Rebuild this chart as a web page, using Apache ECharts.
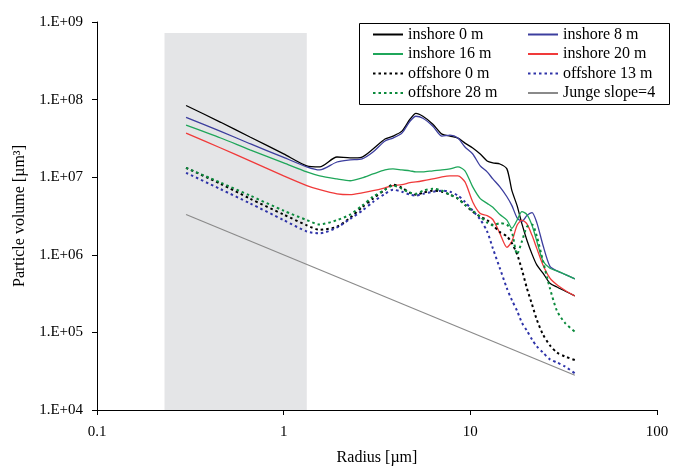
<!DOCTYPE html>
<html>
<head>
<meta charset="utf-8">
<script src="https://cdn.jsdelivr.net/npm/echarts@6/dist/echarts.min.js"></script>
<style>html,body{margin:0;padding:0;background:#fff}#c{width:674px;height:471px}</style>
</head>
<body>
<div id="c"></div>
<script>
// Radius grid (µm) shared by the measured curves
const radius = [0.30, 0.46, 0.66, 1.0, 1.33, 1.56, 1.93, 2.27, 2.63, 3.01, 3.49, 3.85, 4.30, 4.75, 5.11, 5.57, 6.30, 7.05, 7.78, 8.58, 9.36, 10.3, 11.3, 12.3, 13.2, 14.4, 15.7, 16.7, 17.8, 18.9, 20.1, 21.4, 22.7, 24.5, 26.7, 29.1, 32.1, 36.3];

const inshore0 = [8.4e7, 5.1e7, 3.3e7, 2.0e7, 1.4e7, 1.36e7, 1.82e7, 1.77e7, 1.82e7, 2.31e7, 3.1e7, 3.38e7, 3.92e7, 5.58e7, 6.66e7, 6.1e7, 4.82e7, 3.59e7, 3.38e7, 3.19e7, 2.75e7, 2.38e7, 1.99e7, 1.62e7, 1.53e7, 1.48e7, 1.28e7, 6.7e6, 4.3e6, 2.5e6, 1.54e6, 1.02e6, 7.4e5, 5.8e5, 4.3e5, 3.85e5, 3.42e5, 2.95e5];
const inshore8 = [5.9e7, 3.9e7, 2.7e7, 1.8e7, 1.36e7, 1.24e7, 1.57e7, 1.67e7, 1.72e7, 2.11e7, 2.92e7, 3.19e7, 3.7e7, 5.26e7, 6.1e7, 5.75e7, 4.54e7, 3.38e7, 3.48e7, 3.19e7, 2.45e7, 1.99e7, 1.4e7, 1.17e7, 9.5e6, 7.5e6, 5.6e6, 4.3e6, 3.0e6, 2.7e6, 3.2e6, 3.5e6, 2.6e6, 1.33e6, 7.1e5, 6.2e5, 5.6e5, 4.9e5];
const inshore16 = [4.68e7, 3.2e7, 2.25e7, 1.53e7, 1.17e7, 1.04e7, 9.5e6, 9.0e6, 9.8e6, 1.1e7, 1.24e7, 1.28e7, 1.24e7, 1.21e7, 1.17e7, 1.17e7, 1.21e7, 1.24e7, 1.28e7, 1.36e7, 1.21e7, 7.5e6, 5.3e6, 4.6e6, 4.1e6, 3.3e6, 2.8e6, 2.2e6, 2.8e6, 3.6e6, 3.3e6, 2.4e6, 1.5e6, 8.3e5, 6.7e5, 6.2e5, 5.6e5, 4.9e5];
const inshore20 = [3.7e7, 2.38e7, 1.62e7, 1.04e7, 7.8e6, 6.9e6, 6.1e6, 5.95e6, 6.3e6, 6.7e6, 7.3e6, 7.8e6, 8.0e6, 8.5e6, 8.7e6, 9.0e6, 9.5e6, 1.01e7, 1.04e7, 1.04e7, 8.7e6, 4.8e6, 3.4e6, 3.2e6, 2.85e6, 1.89e6, 1.25e6, 1.49e6, 2.4e6, 2.8e6, 2.5e6, 1.78e6, 1.21e6, 7.4e5, 5.0e5, 4.1e5, 3.5e5, 2.95e5];
const offshore0 = [1.32e7, 8.2e6, 5.3e6, 3.3e6, 2.4e6, 2.1e6, 2.3e6, 3.0e6, 4.1e6, 5.3e6, 6.9e6, 8.0e6, 7.3e6, 6.3e6, 5.95e6, 6.3e6, 6.7e6, 6.5e6, 5.95e6, 5.3e6, 4.4e6, 3.6e6, 3.1e6, 2.8e6, 2.4e6, 1.96e6, 1.73e6, 1.41e6, 1.02e6, 6.4e5, 3.7e5, 2.3e5, 1.46e5, 9.4e4, 6.8e4, 5.5e4, 4.9e4, 4.4e4];
const offshore13 = [1.14e7, 7.0e6, 4.6e6, 2.8e6, 2.0e6, 1.89e6, 2.25e6, 2.9e6, 3.7e6, 4.8e6, 6.1e6, 6.9e6, 6.5e6, 5.95e6, 5.8e6, 6.1e6, 6.5e6, 6.7e6, 6.5e6, 5.8e6, 4.8e6, 3.7e6, 2.85e6, 2.0e6, 1.21e6, 6.7e5, 3.7e5, 2.6e5, 1.9e5, 1.33e5, 1.05e5, 8.1e4, 6.6e4, 5.5e4, 4.5e4, 4.1e4, 3.65e4, 2.97e4];
const offshore28 = [1.32e7, 8.5e6, 5.8e6, 3.7e6, 2.8e6, 2.46e6, 2.8e6, 3.3e6, 4.3e6, 5.6e6, 6.9e6, 7.8e6, 7.1e6, 6.3e6, 6.1e6, 6.7e6, 7.1e6, 6.7e6, 5.95e6, 5.3e6, 4.4e6, 3.7e6, 3.1e6, 2.6e6, 2.4e6, 2.55e6, 2.45e6, 1.96e6, 1.02e6, 1.49e6, 2.3e6, 2.46e6, 1.73e6, 8.3e5, 3.7e5, 1.9e5, 1.33e5, 1.02e5];

// Junge slope=4 reference line (end points)
const jungeRadius = [0.30, 36.3];
const jungeVolume = [3.3e6, 2.8e4];

// Shaded radius band and its top
const bandRadius = [0.23, 1.33];
const bandTop = 7.2e8;

const xTicks = [0.1, 1, 10, 100];
const yTicks = ['1.E+04', '1.E+05', '1.E+06', '1.E+07', '1.E+08', '1.E+09'];

const FONT = '"Liberation Serif", "Times New Roman", serif';
const pair = (xs, ys) => xs.map((x, i) => [x, ys[i]]);

const seriesDefs = [
  {name: 'inshore 0 m', data: inshore0, color: '#000000', type: 'solid', width: 1.3},
  {name: 'inshore 8 m', data: inshore8, color: '#3c3e9e', type: 'solid', width: 1.3},
  {name: 'inshore 16 m', data: inshore16, color: '#1fa65a', type: 'solid', width: 1.3},
  {name: 'inshore 20 m', data: inshore20, color: '#f03a3a', type: 'solid', width: 1.3},
  {name: 'offshore 0 m', data: offshore0, color: '#000000', type: [2.5, 3], width: 2},
  {name: 'offshore 13 m', data: offshore13, color: '#2e33a8', type: [2.5, 3], width: 2},
  {name: 'offshore 28 m', data: offshore28, color: '#0b8a3c', type: [2.5, 3], width: 2}
];

const series = [{
  name: 'band', type: 'line', data: [], z: 1, silent: true,
  markArea: {
    silent: true,
    itemStyle: {color: '#e4e5e7'},
    data: [[{coord: [bandRadius[0], 1e4]}, {coord: [bandRadius[1], bandTop]}]]
  }
}];
seriesDefs.forEach(s => series.push({
  name: s.name, type: 'line', z: 3, symbol: 'none', smooth: 0.25,
  data: pair(radius, s.data),
  itemStyle: {color: s.color},
  lineStyle: {color: s.color, type: s.type, width: s.width}
}));
series.push({
  name: 'Junge slope=4', type: 'line', z: 2, symbol: 'none',
  data: pair(jungeRadius, jungeVolume),
  itemStyle: {color: '#8a8a8a'},
  lineStyle: {color: '#8a8a8a', width: 1.2}
});

const legendCommon = {
  orient: 'vertical', top: 21.5, itemWidth: 30, itemHeight: 14, itemGap: 3.5,
  itemStyle: {opacity: 0},
  textStyle: {fontFamily: FONT, fontSize: 16, color: '#000', lineHeight: 16},
  selectedMode: false
};

const chart = echarts.init(document.getElementById('c'), null, {renderer: 'canvas'});
chart.setOption({
  animation: false,
  backgroundColor: '#fff',
  grid: {left: 97, right: 17, top: 22, bottom: 58},
  legend: [
    Object.assign({}, legendCommon, {left: 367, data: ['inshore 0 m', 'inshore 16 m', 'offshore 0 m', 'offshore 28 m']}),
    Object.assign({}, legendCommon, {left: 522, data: ['inshore 8 m', 'inshore 20 m', 'offshore 13 m', 'Junge slope=4']})
  ],
  graphic: [{
    type: 'rect', left: 357, top: 21, z: 10,
    shape: {width: 310, height: 81},
    style: {fill: 'none', stroke: '#000', lineWidth: 1}
  }],
  xAxis: {
    type: 'log', logBase: 10, min: xTicks[0], max: xTicks[xTicks.length - 1],
    name: 'Radius [µm]', nameLocation: 'middle', nameGap: 40,
    nameTextStyle: {fontFamily: FONT, fontSize: 16, color: '#000'},
    axisLine: {lineStyle: {color: '#000', width: 1}},
    axisTick: {show: true, inside: false, length: 5, lineStyle: {color: '#000'}},
    axisLabel: {fontFamily: FONT, fontSize: 15, color: '#000', margin: 15,
      formatter: v => { const e = Math.round(Math.log10(v)); return String(xTicks[e + 1]); }},
    splitLine: {show: false}
  },
  yAxis: {
    type: 'log', logBase: 10, min: 1e4, max: 1e9,
    name: 'Particle volume [µm³]', nameLocation: 'middle', nameGap: 68, nameRotate: 90,
    nameTextStyle: {fontFamily: FONT, fontSize: 16, color: '#000'},
    axisLine: {lineStyle: {color: '#000', width: 1}},
    axisTick: {show: true, inside: false, length: 5, lineStyle: {color: '#000'}},
    axisLabel: {fontFamily: FONT, fontSize: 15, color: '#000', margin: 14,
      formatter: v => { const e = Math.round(Math.log10(v)); return yTicks[e - 4]; }},
    splitLine: {show: false}
  },
  series: series
});
</script>
</body>
</html>
